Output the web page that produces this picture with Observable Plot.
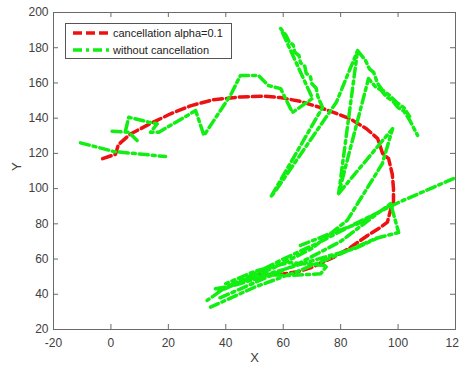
<!DOCTYPE html>
<html><head><meta charset="utf-8">
<script src="https://cdn.jsdelivr.net/npm/d3@7"></script>
<script src="https://cdn.jsdelivr.net/npm/@observablehq/plot@0.6"></script>
<style>
body{margin:0;background:#fff;}
#wrap{position:relative;width:459px;height:369px;font-family:"Liberation Sans",Arial,sans-serif;}
#legend{position:absolute;left:65px;top:23px;}
</style></head><body><div id="wrap"></div>
<script>
const xTicks = [-20, 0, 20, 40, 60, 80, 100, 120];
const yTicks = [20, 40, 60, 80, 100, 120, 140, 160, 180, 200];
const seriesNames = ["cancellation alpha=0.1", "without cancellation"];
const seriesColors = ["#ee1111", "#11ee11"];
const seriesDash = ["9,4", "9,4,3,4"];

// red: cancellation alpha=0.1
const redX = [-2.9, 1.6, 2.6, 6.8, 13.8, 20.8, 27.7, 35.7, 45, 53, 59, 66, 72, 78, 83.4, 89, 92.9, 94.6, 96.7, 98, 98.4, 98.4, 97.4, 96.3, 93.9, 89.4, 83.4, 77.5, 69.5, 65, 60, 55.6, 52];
const redY = [117, 119.5, 125, 131, 137, 142.5, 147, 150.5, 152, 152.5, 151.7, 149.5, 146.5, 143, 139.5, 134, 128.4, 120, 117, 108, 100, 92, 88, 81, 78, 73.4, 66.6, 60.9, 55, 52.8, 51.5, 51.2, 51.2];

// green: without cancellation (null = break between traced pieces)
const greenX = [
  -10.6, 0.9, 19, null,
  0.4, 6.2, 9.1, null,
  5.1, 6.2, 10.9, 13.2, 16.1, 13.8, 16.7, 29.5, 32.4, 41.6, 45.1, 51.4, 54.9, 59.1, 63.2, 70.2,
  59.1, 61, 62, 63.5, 64, 65.5, 66, 67.5, 68, 69.5, 70, 71.5, 72, 73.7, 55.6, 58.5, 78.5, 85.9, 79.3,
  89.7, 92, 94, 96, 98, 100, 102, 104, 106.8, null,
  85.9, 88.7, 90, 91.5, 92.9, 94.5, 97, 99.5, 102, 104, null,
  79.3, 98.1, 94.5, 82.3, 70, 58, 45, 37, null,
  38, 52, 66, 80, 97.4, 100.2, 92.2, 80, 65, 50, 34.7, null,
  119.3, 100, 85, 72, 60, 48, 40, 33.5, null,
  36.4, 42.8, 55, 62.5, 73, 75.3, 62, 50, 40, null,
  66, 77.5, 86, 96.2, null,
  45, 60, 72, 85, 93
];
const greenY = [
  126, 121.1, 118.2, null,
  132.6, 132, 127.3, null,
  133, 140.5, 138.7, 137.7, 136.8, 132, 132, 144.3, 130.2, 152.9, 164.2, 164.2, 158.5, 156.8, 143.2, 151.2,
  190.9, 187, 183.5, 181.5, 177.5, 175.5, 171.5, 169.5, 165.5, 163.5, 159.5, 157, 152.5, 146.1, 95, 101.5, 149, 178.4, 97.2,
  162.5, 158, 156, 152, 150, 146, 144, 139, 130.2, null,
  178.4, 172.7, 168, 166, 159.7, 156, 153, 149, 146, 141, null,
  97.2, 134.1, 114.1, 82, 66, 56, 47, 41, null,
  38, 48, 58, 70, 91.5, 75.1, 71.7, 63, 53, 44, 32.7, null,
  105.7, 92, 80, 69, 60, 50, 44, 36.5, null,
  43.1, 45, 51, 50.7, 51.6, 56.3, 58, 53, 46, null,
  67.7, 75.2, 80, 89.4, null,
  47, 54, 60, 66, 72
];

const W = 459, H = 369, mL = 53, mR = 4, mT = 12, mB = 40;
const innerW = W - mL - mR, innerH = H - mT - mB, tick = 5;

const chart = Plot.plot({
  width: W, height: H,
  marginLeft: mL, marginRight: mR, marginTop: mT, marginBottom: mB,
  style: {fontFamily: "'Liberation Sans', Arial, sans-serif", fontSize: "12px", color: "#404040", background: "#fff"},
  x: {domain: [-20, 120]},
  y: {domain: [20, 200]},
  marks: [
    Plot.line(d3.range(redX.length), {x: i => redX[i], y: i => redY[i], stroke: seriesColors[0], strokeWidth: 3.5, strokeDasharray: seriesDash[0], strokeLinejoin: "round", clip: true}),
    Plot.line(d3.range(greenX.length), {x: i => greenX[i], y: i => greenY[i], stroke: seriesColors[1], strokeWidth: 3.5, strokeDasharray: seriesDash[1], strokeLinejoin: "round", clip: true}),
    Plot.frame({stroke: "#6a6a6a"}),
    Plot.tickX(xTicks, {x: d => d, insetTop: innerH - tick, stroke: "#6a6a6a"}),
    Plot.tickX(xTicks, {x: d => d, insetBottom: innerH - tick, stroke: "#6a6a6a"}),
    Plot.tickY(yTicks, {y: d => d, insetRight: innerW - tick, stroke: "#6a6a6a"}),
    Plot.tickY(yTicks, {y: d => d, insetLeft: innerW - tick, stroke: "#6a6a6a"}),
    Plot.axisX({ticks: xTicks, tickSize: 0, tickPadding: 9, label: null, fontSize: 12, tickFormat: d => String(d)}),
    Plot.axisY({ticks: yTicks, tickSize: 0, tickPadding: 5, label: null, fontSize: 12, tickFormat: d => String(d)}),
    Plot.text(["X"], {frameAnchor: "bottom", dy: 32, fontSize: 13, fill: "#404040"}),
    Plot.text(["Y"], {frameAnchor: "left", dx: -37, rotate: -90, fontSize: 13, fill: "#404040"})
  ]
});

const wrap = document.getElementById("wrap");
wrap.appendChild(chart);

// legend box (overlay)
const lg = d3.select(wrap).append("svg").attr("id", "legend")
  .attr("width", 167).attr("height", 36);
lg.append("rect").attr("x", 0.5).attr("y", 0.5).attr("width", 166).attr("height", 35)
  .attr("fill", "#fff").attr("stroke", "#555");
seriesNames.forEach((name, i) => {
  const y = 10 + i * 17;
  lg.append("line").attr("x1", 8).attr("x2", 45).attr("y1", y).attr("y2", y)
    .attr("stroke", seriesColors[i]).attr("stroke-width", 3.5).attr("stroke-dasharray", seriesDash[i]);
  lg.append("text").attr("x", 48).attr("y", y).attr("dy", "0.35em")
    .attr("font-size", 11).attr("fill", "#222")
    .attr("font-family", "'Liberation Sans', Arial, sans-serif").text(name);
});
</script>
</body></html>
